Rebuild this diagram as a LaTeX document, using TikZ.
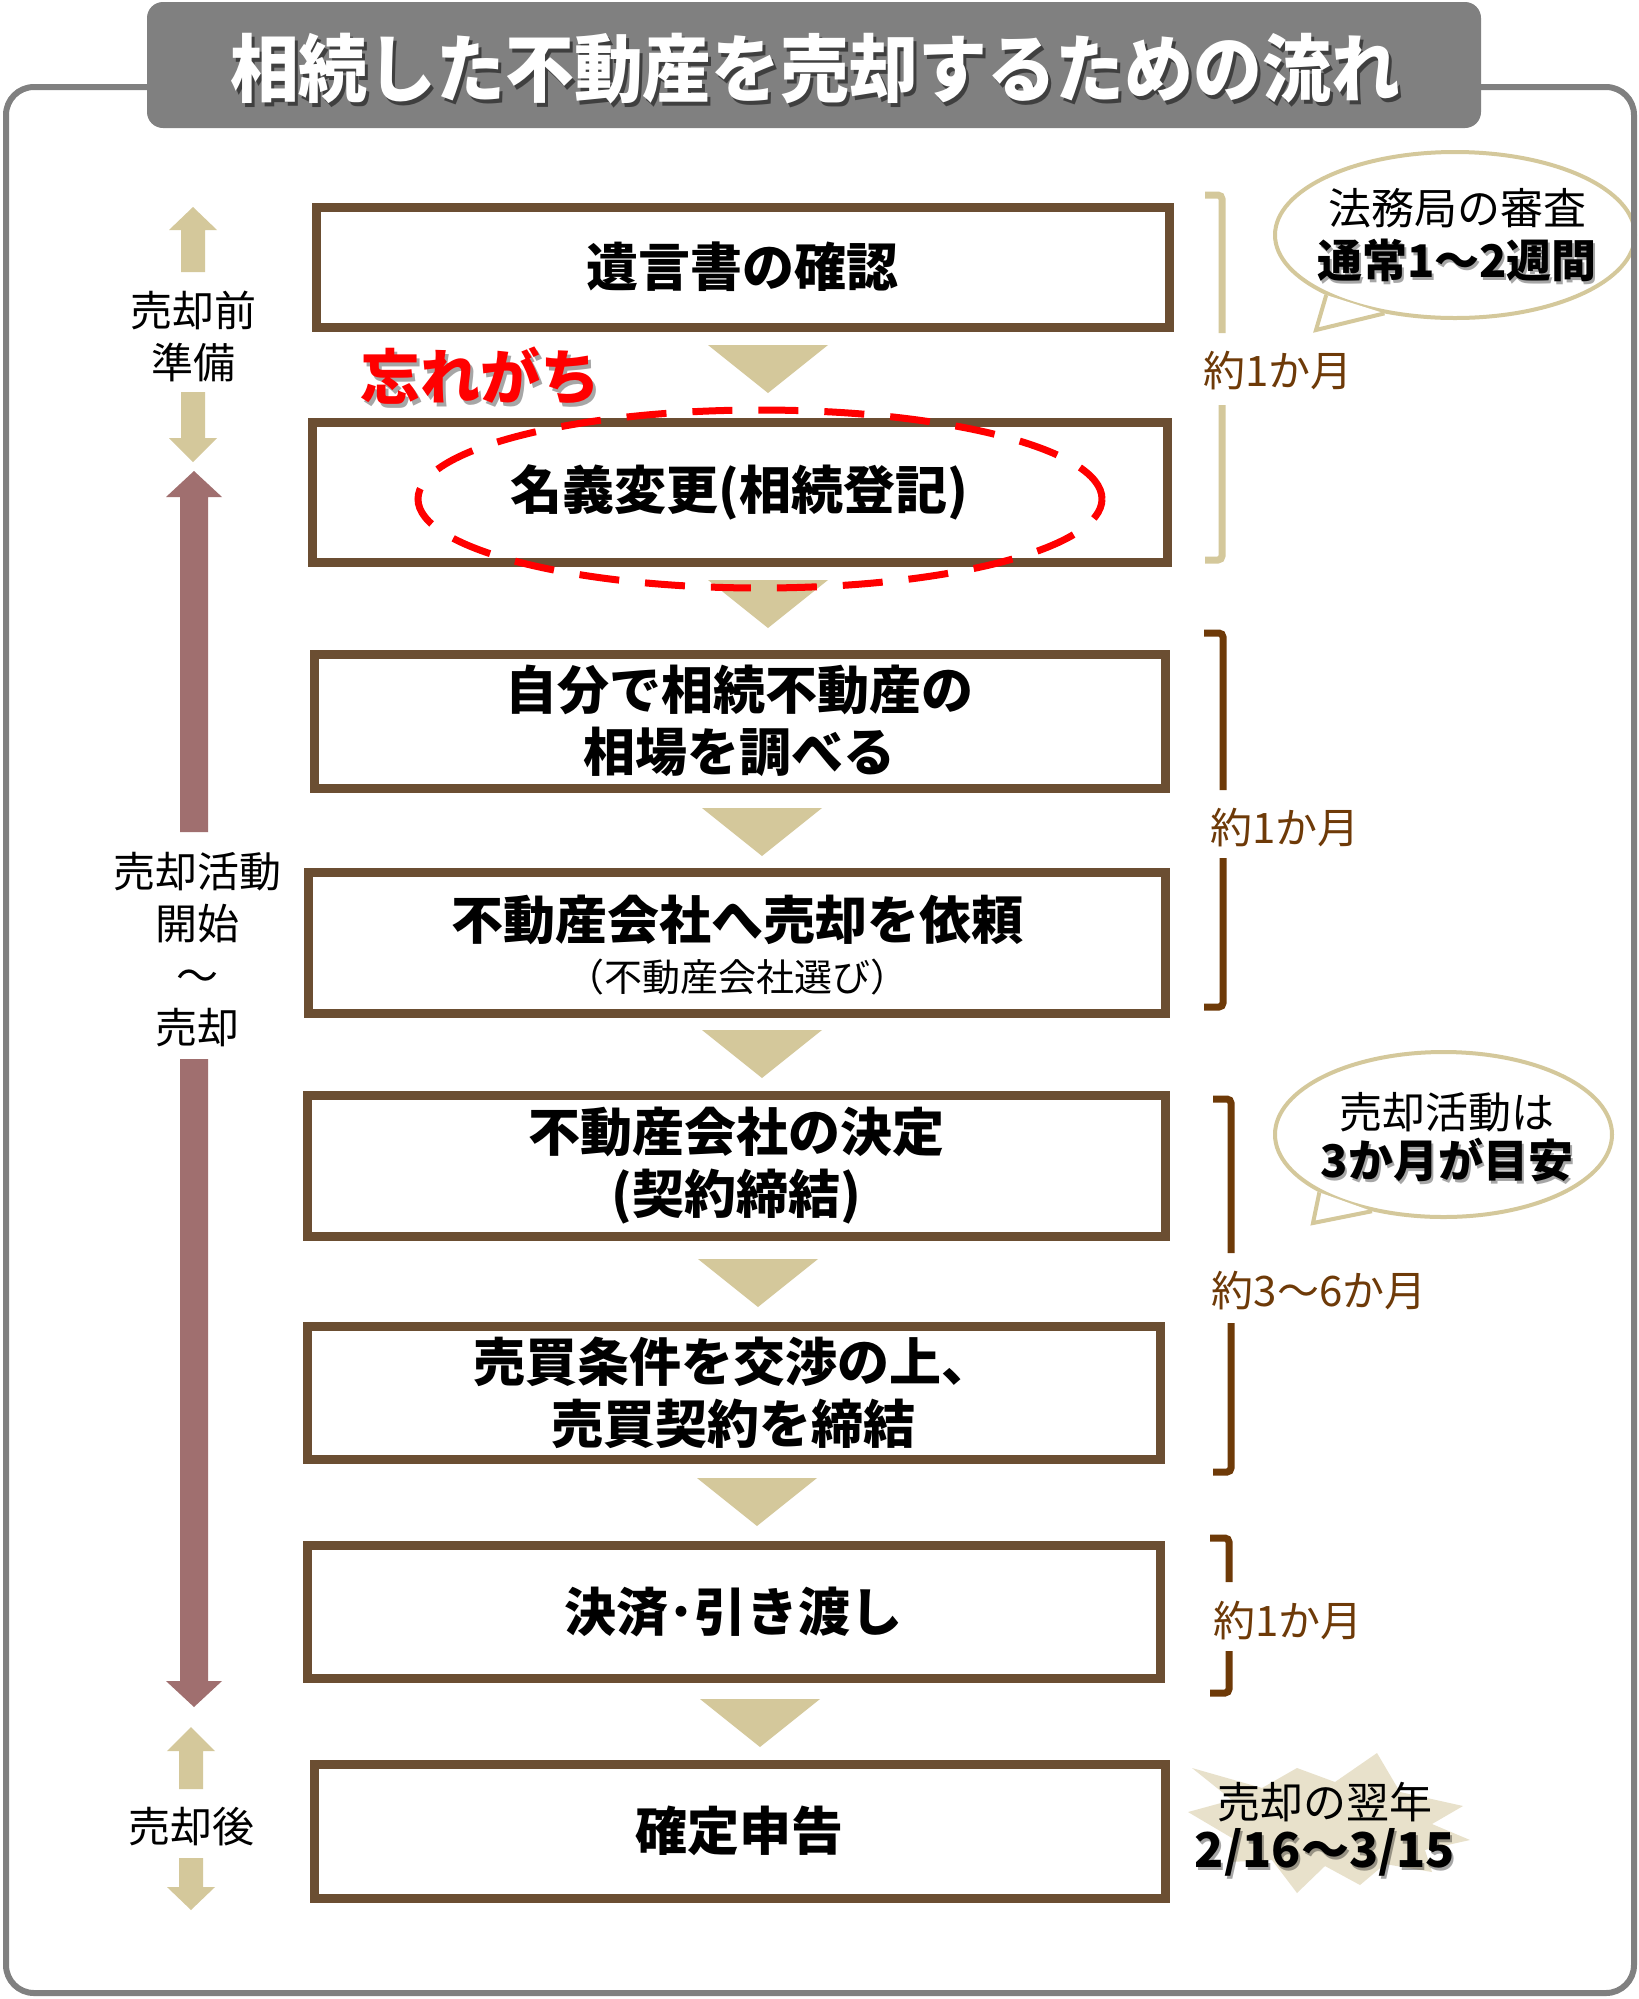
\documentclass[tikz,border=0pt]{standalone}
\usepackage{fontspec}
\setmainfont{Noto Sans CJK JP}
\newfontfamily\titlefont[FakeStretch=0.93]{Noto Sans CJK JP}
\usetikzlibrary{shapes.geometric,calc}
\definecolor{tanc}{RGB}{212,200,155}
\definecolor{boxbrown}{RGB}{107,78,50}
\definecolor{brkc}{RGB}{110,58,8}
\definecolor{mauve}{RGB}{160,111,111}
\definecolor{framegray}{RGB}{128,128,128}
\definecolor{burstc}{RGB}{232,225,203}
\newcommand\flowtri[2]{\fill[tanc] ({#1-60},#2) -- ({#1+60},#2) -- (#1,{#2+48}) -- cycle;}
\begin{document}
\begin{tikzpicture}[x=0.5pt,y=-0.5pt,
  stepbox/.style={draw=boxbrown, line width=4.5pt, fill=white, inner sep=0pt, align=center,
    font=\bfseries\fontsize{26pt}{31pt}\selectfont},
  sidelbl/.style={font=\fontsize{21pt}{26pt}\selectfont, align=center, inner sep=0pt},
  brlbl/.style={text=brkc, font=\fontsize{21pt}{26pt}\selectfont, inner sep=0pt},
  brline/.style={draw=brkc, line width=3.5pt, rounded corners=2pt},
  tanbr/.style={draw=tanc, line width=3.5pt, rounded corners=2pt},
  bub/.style={ellipse, draw=tanc, line width=2pt, fill=white, inner sep=0pt},
  bubtxt/.style={font=\fontsize{21.5pt}{26pt}\selectfont, inner sep=0pt},
  bubbold/.style={font=\bfseries\fontsize{22.5pt}{26pt}\selectfont, inner sep=0pt},
  shadowtxt/.style={text=black, opacity=0.35},
]
\useasboundingbox (0,0) rectangle (1639,1999);
\fill[white] (0,0) rectangle (1639,1999);

% ---------- step boxes ----------
\node[stepbox, minimum width=426.5pt, minimum height=60pt] (b1) at (742.5,267) {遺言書の確認};
\node[stepbox, minimum width=427.5pt, minimum height=70pt] (b2) at (739.5,492) {名義変更(相続登記)};
\node[stepbox, minimum width=425.5pt, minimum height=67pt] (b3) at (739.5,721) {自分で相続不動産の\\相場を調べる};
\node[stepbox, minimum width=428.5pt, minimum height=70.5pt] (b4) at (736.5,942.5) {};
\node[font=\bfseries\fontsize{26pt}{31pt}\selectfont, inner sep=0pt] (b4a) at (737,920) {不動産会社へ売却を依頼};
\node[font=\fontsize{19pt}{22pt}\selectfont, inner sep=0pt] (b4b) at (737,977) {（不動産会社選び）};
\node[stepbox, minimum width=429pt, minimum height=70.5pt] (b5) at (736,1165.5) {不動産会社の決定\\(契約締結)};
\node[stepbox, minimum width=426.5pt, minimum height=66.5pt] (b6) at (733.5,1392.5) {売買条件を交渉の上、\\売買契約を締結};
\node[stepbox, minimum width=426.5pt, minimum height=66.5pt] (b7) at (733.5,1611.5) {決済･引き渡し};
\node[stepbox, minimum width=425.5pt, minimum height=67pt] (b8) at (739.5,1831) {確定申告};

% ---------- flow triangles ----------
\flowtri{768}{345}
\flowtri{768}{580}
\flowtri{762}{808}
\flowtri{762}{1030}
\flowtri{758}{1259}
\flowtri{757}{1478}
\flowtri{760}{1699}

% ---------- highlight ----------
\node[draw=red, line width=3.5pt, dash pattern=on 20pt off 13pt, ellipse,
      minimum width=342pt, minimum height=89pt, inner sep=0pt] (forget) at (760,499) {};
\node[shadowtxt, font=\bfseries\fontsize{30pt}{34pt}\selectfont, inner sep=0pt] (forgetsh) at (483,380) {忘れがち};
\node[text=red, font=\bfseries\fontsize{30pt}{34pt}\selectfont, inner sep=0pt] (forgettxt) at (480,376) {忘れがち};

% ---------- left column ----------
\fill[tanc] (193,207) -- (217,230) -- (205,230) -- (205,272) -- (181,272) -- (181,230) -- (169,230) -- cycle;
\node[sidelbl] (pre) at (193,336) {売却前\\準備};
\fill[tanc] (181,392) -- (205,392) -- (205,438) -- (217,438) -- (193,462) -- (169,438) -- (181,438) -- cycle;

\fill[mauve] (194,471) -- (222,497) -- (208,497) -- (208,832) -- (180,832) -- (180,497) -- (166,497) -- cycle;
\node[sidelbl] (act) at (197,950) {売却活動\\開始\\～\\売却};
\fill[mauve] (180,1059) -- (208,1059) -- (208,1681) -- (222,1681) -- (194,1707) -- (166,1681) -- (180,1681) -- cycle;

\fill[tanc] (191,1727) -- (215,1751) -- (203,1751) -- (203,1789) -- (179,1789) -- (179,1751) -- (167,1751) -- cycle;
\node[sidelbl] (post) at (191,1827) {売却後};
\fill[tanc] (179,1858) -- (203,1858) -- (203,1887) -- (215,1887) -- (191,1910) -- (167,1887) -- (179,1887) -- cycle;

% ---------- right brackets ----------
\draw[tanbr] (1205,195) -- (1222,195) -- (1222,333);
\draw[tanbr] (1222,405) -- (1222,560) -- (1205,560);
\node[brlbl] (p1) at (1278,371) {約1か月};

\draw[brline] (1204,633) -- (1223,633) -- (1223,790);
\draw[brline] (1223,858) -- (1223,1007) -- (1204,1007);
\node[brlbl] (p2) at (1285,828) {約1か月};

\draw[brline] (1213,1099) -- (1231,1099) -- (1231,1253);
\draw[brline] (1231,1323) -- (1231,1472) -- (1213,1472);
\node[brlbl] (p3) at (1319,1291) {約3～6か月};

\draw[brline] (1210,1538) -- (1229,1538) -- (1229,1582);
\draw[brline] (1229,1651) -- (1229,1693) -- (1210,1693);
\node[brlbl] (p4) at (1288,1621) {約1か月};

% ---------- bubbles ----------
\node[bub, minimum width=180pt, minimum height=83pt] (bub1) at (1455,235) {};
\coordinate (tip1) at (1316,330);
\filldraw[draw=tanc, fill=white, line width=2pt, line join=miter] (bub1.205) -- (tip1) -- (bub1.228);
\node[bubtxt] (bub1a) at (1457,208) {法務局の審査};
\node[bubbold, shadowtxt] (bub1bs) at (1459,263) {通常1～2週間};
\node[bubbold] (bub1b) at (1457,260) {通常1～2週間};

\node[bub, minimum width=168.5pt, minimum height=82.5pt] (bub2) at (1443.5,1134.5) {};
\coordinate (tip2) at (1313,1223);
\filldraw[draw=tanc, fill=white, line width=2pt, line join=miter] (bub2.205) -- (tip2) -- (bub2.227);
\node[bubtxt] (bub2a) at (1447,1112) {売却活動は};
\node[bubbold, shadowtxt] (bub2bs) at (1449,1163) {3か月が目安};
\node[bubbold] (bub2b) at (1447,1160) {3か月が目安};

% ---------- starburst ----------
\fill[burstc] (1192,1768) -- (1262,1788) -- (1297,1768) -- (1335,1782) -- (1377,1753) -- (1400,1792)
  -- (1463,1806) -- (1432,1824) -- (1470,1840) -- (1425,1850) -- (1432,1872) -- (1385,1864)
  -- (1360,1885) -- (1325,1866) -- (1297,1893) -- (1272,1860) -- (1228,1862) -- (1232,1838)
  -- (1188,1812) -- (1232,1800) -- cycle;
\node[bubtxt] (burst1) at (1325,1802) {売却の翌年};
\node[shadowtxt, font=\bfseries\fontsize{24pt}{28pt}\selectfont, inner sep=0pt] (burst2s) at (1327,1855) {2/16～3/15};
\node[font=\bfseries\fontsize{24pt}{28pt}\selectfont, inner sep=0pt] (burst2) at (1325,1852) {2/16～3/15};

% ---------- frame and title ----------
\draw[framegray, line width=3pt, rounded corners=14pt] (6,87) rectangle (1634,1993);
\node[fill=framegray, rounded corners=8pt, minimum width=667pt, minimum height=63pt, inner sep=0pt] (title) at (814,65) {};
\node[shadowtxt, opacity=0.5, font=\titlefont\bfseries\fontsize{37pt}{42pt}\selectfont, inner sep=0pt] (titlesh) at (818,73) {相続した不動産を売却するための流れ};
\node[text=white, font=\titlefont\bfseries\fontsize{37pt}{42pt}\selectfont, inner sep=0pt] (titletxt) at (815,69) {相続した不動産を売却するための流れ};
\end{tikzpicture}
\end{document}
